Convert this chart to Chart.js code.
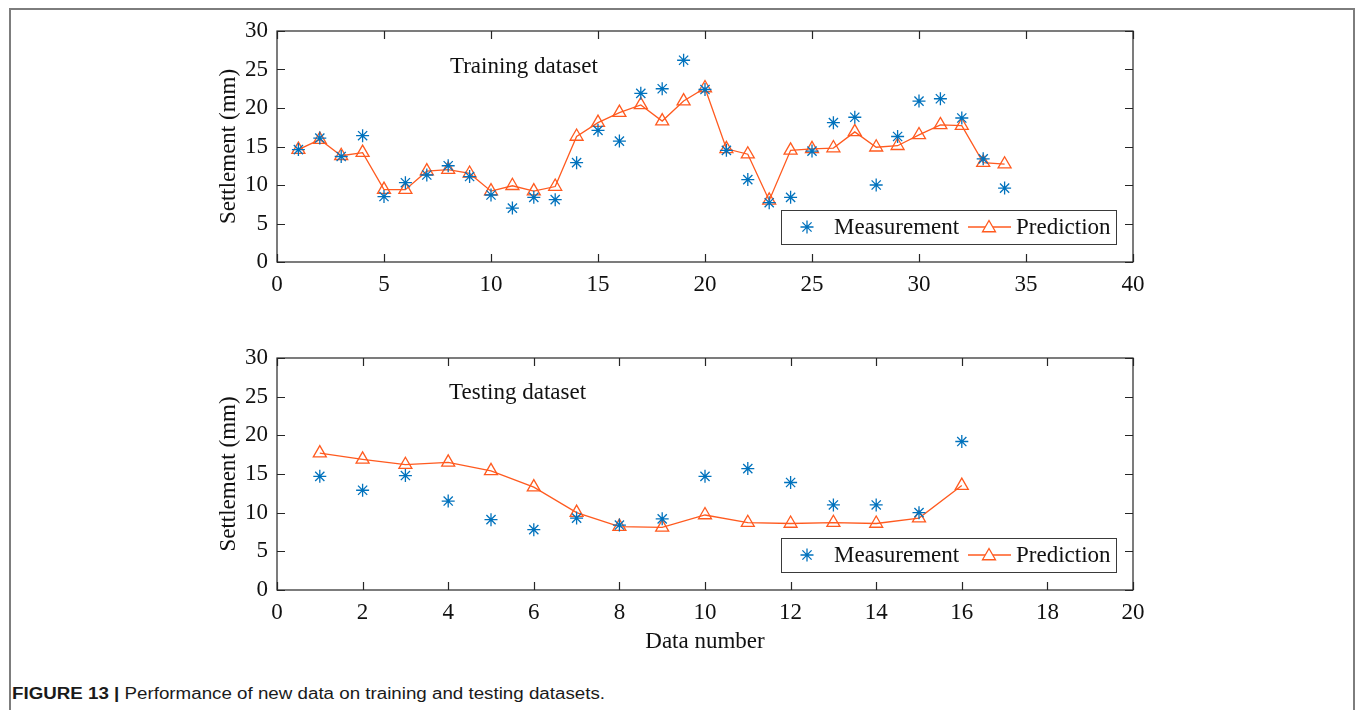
<!DOCTYPE html>
<html>
<head>
<meta charset="utf-8">
<title>Settlement: measurement vs prediction</title>
<script src="https://cdn.jsdelivr.net/npm/chart.js@4.4.1/dist/chart.umd.min.js"></script>
<style>
  html, body { margin: 0; padding: 0; background: #fff; width: 1355px; height: 710px; overflow: hidden; }
  #frame { position: absolute; left: 9px; top: 8px; width: 1346px; height: 760px; border: 2px solid #7d7d7d; border-bottom: none; box-sizing: border-box; }
  .plot { position: absolute; left: 200px; }
  #trainBox { top: 15px; width: 960px; height: 280px; }
  #testBox { top: 345px; width: 960px; height: 320px; }
  #caption { position: absolute; left: 12px; top: 685px; line-height: 18px; font-family: "Liberation Sans Narrow", "Arial Narrow", "Liberation Sans", Arial, sans-serif; font-size: 16px; color: #1a1a1a; white-space: nowrap; transform-origin: 0 50%; }
  #caption b { font-weight: bold; }
</style>
</head>
<body>
<div id="frame"></div>
<div class="plot" id="trainBox"><canvas id="trainChart" width="960" height="280"></canvas></div>
<div class="plot" id="testBox"><canvas id="testChart" width="960" height="320"></canvas></div>
<div id="caption"><b>FIGURE 13 |</b> Performance of new data on training and testing datasets.</div>

<script>
// Training dataset: sample number, measured and predicted settlement (mm)
const trainNumber = [1, 2, 3, 4, 5, 6, 7, 8, 9, 10, 11, 12, 13, 14, 15, 16, 17,
                     18, 19, 20, 21, 22, 23, 24, 25, 26, 27, 28, 29, 30, 31, 32, 33, 34];
const trainMeasured = [14.6, 16.1, 13.7, 16.4, 8.5, 10.3, 11.3, 12.5, 11.1, 8.7, 7.0, 8.4, 8.1,
                       12.9, 17.1, 15.7, 21.9, 22.5, 26.2, 22.4, 14.5, 10.7, 7.7, 8.4, 14.4,
                       18.1, 18.8, 10.0, 16.3, 20.9, 21.2, 18.7, 13.4, 9.6];
const trainPredicted = [14.6, 15.9, 13.8, 14.2, 9.4, 9.4, 11.8, 12.0, 11.5, 9.2, 9.9, 9.2, 9.8,
                        16.3, 18.1, 19.4, 20.4, 18.3, 20.9, 22.6, 14.7, 14.0, 8.0, 14.5, 14.7,
                        14.8, 16.9, 14.9, 15.1, 16.5, 17.8, 17.7, 12.9, 12.7];

// Testing dataset
const testNumber = [1, 2, 3, 4, 5, 6, 7, 8, 9, 10, 11, 12, 13, 14, 15, 16];
const testMeasured = [14.7, 12.9, 14.8, 11.5, 9.1, 7.8, 9.3, 8.4, 9.2, 14.7, 15.7, 13.9, 11.0, 11.0, 10.0, 19.2];
const testPredicted = [17.7, 16.9, 16.2, 16.5, 15.4, 13.3, 10.0, 8.2, 8.1, 9.7, 8.7, 8.6, 8.7, 8.6, 9.3, 13.5];

// Axis ranges and tick steps
const trainXTicks = { min: 0, max: 40, step: 5 };
const testXTicks = { min: 0, max: 20, step: 2 };
const yTicks = { min: 0, max: 30, step: 5 };

const seriesNames = ['Measurement', 'Prediction'];
const panelTitles = ['Training dataset', 'Testing dataset'];

const BLUE = '#0072BD';
const ORANGE = '#FF5A1F';
const AXIS = '#262626';
const SERIF = '"Liberation Serif", "Times New Roman", serif';
const FONT_SIZE = 23;

function pairs(xs, ys) { return xs.map((x, i) => ({ x: x, y: ys[i] })); }

// Box around the axes with inward tick marks on all four sides
const boxPlugin = {
  id: 'axesBox',
  afterDraw(chart) {
    const { ctx, chartArea: a, scales: { x, y } } = chart;
    const len = 8;
    ctx.save();
    ctx.strokeStyle = AXIS;
    ctx.lineWidth = 1.2;
    ctx.strokeRect(a.left, a.top, a.right - a.left, a.bottom - a.top);
    ctx.beginPath();
    x.ticks.forEach(t => {
      const px = Math.round(x.getPixelForValue(t.value)) + 0.5;
      ctx.moveTo(px, a.bottom); ctx.lineTo(px, a.bottom - len);
      ctx.moveTo(px, a.top); ctx.lineTo(px, a.top + len);
    });
    y.ticks.forEach(t => {
      const py = Math.round(y.getPixelForValue(t.value)) + 0.5;
      ctx.moveTo(a.left, py); ctx.lineTo(a.left + len, py);
      ctx.moveTo(a.right, py); ctx.lineTo(a.right - len, py);
    });
    ctx.stroke();
    ctx.restore();
  }
};

// Panel label placed in data coordinates
const labelPlugin = {
  id: 'panelLabel',
  afterDatasetsDraw(chart, args, opts) {
    const { ctx, scales: { x, y } } = chart;
    ctx.save();
    ctx.fillStyle = '#111';
    ctx.font = FONT_SIZE + 'px ' + SERIF;
    ctx.textAlign = 'left';
    ctx.textBaseline = 'middle';
    ctx.fillText(opts.text, x.getPixelForValue(opts.x), y.getPixelForValue(opts.y));
    ctx.restore();
  }
};

// Legend box in the lower right corner of the axes
const legendPlugin = {
  id: 'boxLegend',
  afterDraw(chart) {
    const { ctx, chartArea: a } = chart;
    const w = 335, h = 34;
    const left = a.right - 17 - w, top = a.bottom - 18 - h;
    const cy = top + h / 2;
    const ds = chart.data.datasets;
    ctx.save();
    ctx.fillStyle = '#fff';
    ctx.fillRect(left, top, w, h);
    ctx.strokeStyle = '#3a3a3a';
    ctx.lineWidth = 1;
    ctx.strokeRect(Math.round(left) + 0.5, Math.round(top) + 0.5, w, h);

    ctx.strokeStyle = ds[0].borderColor;
    ctx.lineWidth = ds[0].borderWidth;
    Chart.helpers.drawPoint(ctx, { pointStyle: 'star', radius: ds[0].pointRadius, borderWidth: ds[0].borderWidth }, left + 26, cy);

    ctx.strokeStyle = ds[1].borderColor;
    ctx.lineWidth = ds[1].borderWidth;
    ctx.beginPath();
    ctx.moveTo(left + 187, cy); ctx.lineTo(left + 230, cy);
    ctx.stroke();
    ctx.fillStyle = '#fff';
    ctx.lineWidth = ds[1].pointBorderWidth;
    Chart.helpers.drawPoint(ctx, { pointStyle: 'triangle', radius: ds[1].pointRadius, borderWidth: ds[1].pointBorderWidth }, left + 208, cy + 1);

    ctx.fillStyle = '#111';
    ctx.font = FONT_SIZE + 'px ' + SERIF;
    ctx.textAlign = 'left';
    ctx.textBaseline = 'middle';
    ctx.fillText(ds[0].label, left + 53, cy + 1);
    ctx.fillText(ds[1].label, left + 235, cy + 1);
    ctx.restore();
  }
};

function buildChart(id, xs, meas, pred, xr, opts) {
  const tickFont = { family: SERIF, size: FONT_SIZE };
  return new Chart(document.getElementById(id), {
    type: 'line',
    data: {
      datasets: [
        {
          label: seriesNames[0],
          data: pairs(xs, meas),
          showLine: false,
          pointStyle: 'star',
          pointRadius: 6.5,
          borderColor: BLUE,
          backgroundColor: BLUE,
          borderWidth: 1.3,
          pointBorderWidth: 1.3
        },
        {
          label: seriesNames[1],
          data: pairs(xs, pred),
          showLine: true,
          tension: 0,
          borderColor: ORANGE,
          backgroundColor: 'rgba(0,0,0,0)',
          borderWidth: 1.3,
          pointStyle: 'triangle',
          pointRadius: 7.5,
          pointBorderWidth: 1.3,
          pointBackgroundColor: 'rgba(0,0,0,0)',
          pointBorderColor: ORANGE
        }
      ]
    },
    options: {
      responsive: false,
      animation: false,
      devicePixelRatio: 1,
      events: [],
      layout: { padding: { left: 0, top: opts.padTop, right: 27, bottom: 0 } },
      plugins: {
        legend: { display: false },
        tooltip: { enabled: false },
        panelLabel: { text: opts.label, x: opts.labelX, y: opts.labelY }
      },
      scales: {
        x: {
          type: 'linear',
          min: xr.min, max: xr.max,
          ticks: { stepSize: xr.step, color: '#111', font: tickFont, padding: 9, maxRotation: 0, autoSkip: false },
          grid: { display: false, drawTicks: false },
          border: { display: false },
          title: {
            display: !!opts.xTitle,
            text: opts.xTitle || '',
            color: '#111',
            font: tickFont,
            padding: { top: 0, bottom: 9 }
          },
          afterFit: s => { s.height = opts.xHeight; }
        },
        y: {
          type: 'linear',
          min: yTicks.min, max: yTicks.max,
          ticks: { stepSize: yTicks.step, color: '#111', font: tickFont, padding: 9 },
          grid: { display: false, drawTicks: false },
          border: { display: false },
          title: {
            display: true,
            text: 'Settlement (mm)',
            color: '#111',
            font: tickFont,
            padding: { top: 15, bottom: 0 }
          },
          afterFit: s => { s.width = 77; s.paddingTop = 0; s.paddingBottom = 0; }
        }
      }
    },
    plugins: [boxPlugin, labelPlugin, legendPlugin]
  });
}

buildChart('trainChart', trainNumber, trainMeasured, trainPredicted, trainXTicks,
  { padTop: 16, xHeight: 33, label: panelTitles[0], labelX: 8.08, labelY: 25.3 });
buildChart('testChart', testNumber, testMeasured, testPredicted, testXTicks,
  { padTop: 13, xHeight: 75, label: panelTitles[1], labelX: 4.02, labelY: 25.5, xTitle: 'Data number' });

// Caption set in a narrow face, fitted to its line length
(function () {
  const cap = document.getElementById('caption');
  const w = cap.getBoundingClientRect().width;
  cap.style.transform = 'scaleX(' + (593 / w) + ')';
})();
</script>
</body>
</html>
